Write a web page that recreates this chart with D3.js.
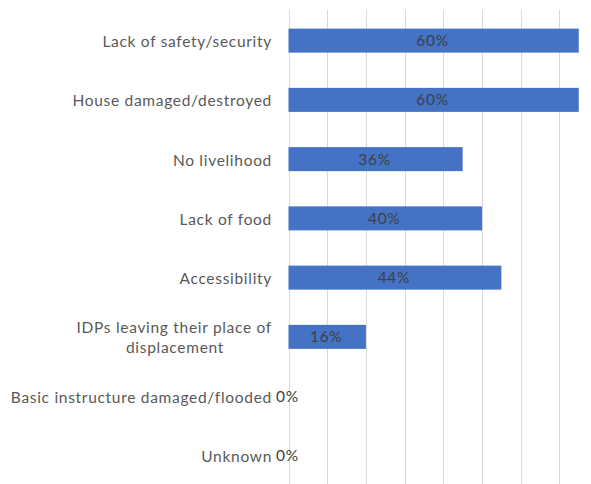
<!DOCTYPE html>
<html>
<head>
<meta charset="utf-8">
<script src="https://cdn.jsdelivr.net/npm/d3@7"></script>
<style>
  body { margin: 0; background: #fff; }
  text { font-family: Lato, "Liberation Sans", sans-serif; }
</style>
</head>
<body>
<script>
// categories, top to bottom
var categories = [
  "Lack of safety/security",
  "House damaged/destroyed",
  "No livelihood",
  "Lack of food",
  "Accessibility",
  "IDPs leaving their place of\ndisplacement",
  "Basic instructure damaged/flooded",
  "Unknown"
];
// number of respondents per reason (out of total)
var counts = [15, 15, 9, 10, 11, 4, 0, 0];
var total = 25;
var xTicks = [0, 2, 4, 6, 8, 10, 12, 14];

var width = 591;
var height = 484;

var x = d3.scaleLinear()
    .domain([0, 14])
    .range([288.5, 559.4]);

var y = d3.scaleBand()
    .domain(d3.range(categories.length))
    .range([11, 485])
    .paddingInner(0.595)
    .paddingOuter(0.2975);

var svg = d3.select("body")
    .append("svg")
    .attr("width", width)
    .attr("height", height);

//gridlines
svg.selectAll("line.grid")
    .data(xTicks)
    .enter()
    .append("line")
    .attr("class", "grid")
    .attr("x1", function(d){ return Math.round(x(d)) + 0.5; })
    .attr("x2", function(d){ return Math.round(x(d)) + 0.5; })
    .attr("y1", 10)
    .attr("y2", height)
    .attr("stroke", "#d9d9d9")
    .attr("stroke-width", 1);

//bars
svg.selectAll("rect.bar")
    .data(counts)
    .enter()
    .append("rect")
    .attr("class", "bar")
    .attr("x", x(0))
    .attr("y", function(d, i){ return y(i); })
    .attr("width", function(d){ return x(d) - x(0); })
    .attr("height", y.bandwidth())
    .attr("fill", "#4472c4");

//data labels
svg.selectAll("text.val")
    .data(counts)
    .enter()
    .append("text")
    .attr("class", "val")
    .attr("x", function(d){ return (x(0) + x(d)) / 2 - 1; })
    .attr("y", function(d, i){ return y(i) + y.bandwidth() / 2; })
    .attr("dy", "0.35em")
    .attr("text-anchor", "middle")
    .attr("font-size", 15.5)
    .attr("letter-spacing", 0.7)
    .attr("fill", "#404040")
    .text(function(d){ return Math.round(d / total * 100) + "%"; });

//category labels
var lab = svg.selectAll("text.cat")
    .data(categories)
    .enter()
    .append("text")
    .attr("class", "cat")
    .attr("text-anchor", "end")
    .attr("font-size", 15.5)
    .attr("letter-spacing", 0.7)
    .attr("fill", "#595959")
    .attr("transform", function(d, i){
        return "translate(272," + (y(i) + y.bandwidth() / 2 + 1) + ")";
    });

lab.each(function(d){
    var lines = d.split("\n");
    var t = d3.select(this);
    lines.forEach(function(line, k){
        t.append("tspan")
            .attr("x", 0)
            .attr("y", (k - (lines.length - 1) / 2) * 20)
            .attr("dy", "0.35em")
            .attr("text-anchor", lines.length > 1 && k > 0 ? "middle" : "end")
            .attr("dx", lines.length > 1 && k > 0 ? -97 : 0)
            .text(line);
    });
});
</script>
</body>
</html>
